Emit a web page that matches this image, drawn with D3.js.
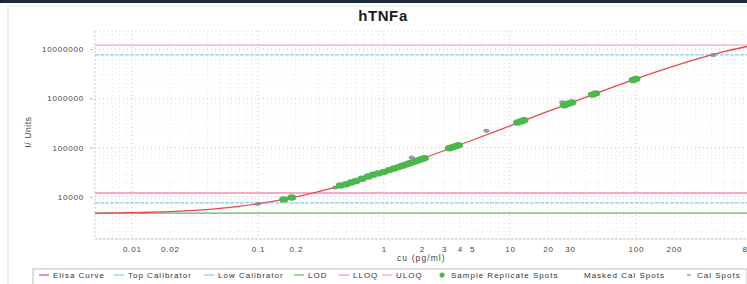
<!DOCTYPE html>
<html>
<head>
<meta charset="utf-8">
<script src="https://cdn.jsdelivr.net/npm/d3@7"></script>
<style>
  body { margin: 0; background: #fff; }
  svg { display: block; font-family: "Liberation Sans", Arial, sans-serif; }
</style>
</head>
<body>
<svg width="747" height="284"></svg>
<script>
// chart values
const xTicks = [0.01, 0.02, 0.1, 0.2, 1, 2, 3, 4, 5, 10, 20, 30, 100, 200, 800];
const yTicks = [10000, 100000, 1000000, 10000000];

// fitted elisa curve
const curveX = [0.005, 0.01, 0.02, 0.05, 0.1, 0.2, 0.5, 1, 2, 5, 10, 20, 50, 100, 200, 500, 1000];
const curveY = [4640, 4780, 5050, 5870, 7250, 10000, 18200, 32000, 59400, 141000, 276000, 542000, 1306000, 2480000, 4500000, 8820000, 12980000];

// sample replicate spots (green)
const sampleX = [0.16, 0.185, 0.45, 0.5, 0.55, 0.6, 0.67, 0.75, 0.82, 0.9, 1.0, 1.1, 1.2, 1.3, 1.4, 1.5, 1.6, 1.7, 1.8, 1.9, 2.0, 2.1,
                 3.3, 3.5, 3.7, 3.9, 11.5, 12.2, 12.9, 27, 29, 31, 45, 48, 95, 100];
const sampleY = [8900, 9700, 17000, 18100, 19600, 21000, 23300, 26000, 28100, 30000, 32200, 35000, 37600, 40200, 43000, 45600, 48200, 50800, 53400, 56000, 58600, 61200,
                 97000, 102000, 107000, 112000, 322000, 340000, 358000, 725000, 775000, 825000, 1190000, 1260000, 2360000, 2480000];

// calibrator spots (grey)
const calX = [0.1, 0.41, 1.66, 6.5, 26, 410];
const calY = [7300, 15500, 63000, 220000, 830000, 7600000];

// reference levels
const levels = [
  { name: "ULOQ", value: 12000000, color: "#f4a6c4" },
  { name: "Top Calibrator", value: 7600000, color: "#8fcbea" },
  { name: "LLOQ", value: 12000, color: "#ee8fb0" },
  { name: "Low Calibrator", value: 7600, color: "#8fcbea" },
  { name: "LOD", value: 4700, color: "#5cb85c" }
];

const legendLabels = ["Elisa Curve", "Top Calibrator", "Low Calibrator", "LOD", "LLOQ", "ULOQ",
                      "Sample Replicate Spots", "Masked Cal Spots", "Cal Spots"];
const legendColors = ["#e8474f", "#8fcbea", "#8fcbea", "#5cb85c", "#ee8fb0", "#f4a6c4", "#4cb84c", null, "#888"];
// where each legend text starts
const legendPos = [53, 128, 218, 308, 353, 396, 451, 584, 697];

const svg = d3.select("svg");
const W = 747, H = 284;

// frame bits of the screenshot
svg.append("rect").attr("x", 0).attr("y", 0).attr("width", W).attr("height", 3).attr("fill", "#1d2838");
svg.append("rect").attr("x", 8).attr("y", 6).attr("width", 760).attr("height", 300)
  .attr("fill", "none").attr("stroke", "#e2e2e2");

const x = d3.scaleLog().domain([0.005, 1000]).range([94, 762]);
const y = d3.scaleLog().domain([1400, 23200000]).range([239, 31]);
const pL = 95, pT = 31, pB = 239, pR = 770;

svg.append("text").attr("x", 383).attr("y", 21).attr("text-anchor", "middle")
  .attr("font-size", 15).attr("font-weight", "bold").attr("letter-spacing", 0.6)
  .attr("fill", "#1a1a1a").text("hTNFa");

const plot = svg.append("g");
plot.append("clipPath").attr("id", "clip").append("rect")
  .attr("x", pL).attr("y", pT).attr("width", pR - pL).attr("height", pB - pT);

// grid: minor then major
const xMinor = [], yMinor = [];
for (let e = -3; e <= 3; e++) for (let m = 1; m <= 9; m++) {
  const v = m * Math.pow(10, e);
  if (v >= 0.005 && v <= 1000) xMinor.push(v);
}
for (let e = 3; e <= 7; e++) for (let m = 1; m <= 9; m++) {
  const v = m * Math.pow(10, e);
  if (v >= 1400 && v <= 23200000) yMinor.push(v);
}
const isDecade = d => Math.abs(Math.log10(d) - Math.round(Math.log10(d))) < 1e-9;
plot.selectAll(".gx").data(xMinor).enter().append("line")
  .attr("x1", d => x(d)).attr("x2", d => x(d)).attr("y1", pT).attr("y2", pB)
  .attr("stroke", d => isDecade(d) ? "#c8c8c8" : "#e4e4e4")
  .attr("stroke-dasharray", "1,3").attr("stroke-width", 1);
plot.selectAll(".gy").data(yMinor).enter().append("line")
  .attr("x1", pL).attr("x2", pR).attr("y1", d => y(d)).attr("y2", d => y(d))
  .attr("stroke", d => isDecade(d) ? "#c8c8c8" : "#ececec")
  .attr("stroke-dasharray", "1,3").attr("stroke-width", 1);

// axis lines
plot.append("line").attr("x1", pL).attr("x2", pL).attr("y1", pT).attr("y2", pB)
  .attr("stroke", "#cfcfcf").attr("stroke-dasharray", "2,2");
plot.append("line").attr("x1", pL).attr("x2", pR).attr("y1", pB).attr("y2", pB)
  .attr("stroke", "#bdbdbd").attr("stroke-dasharray", "3,1");
plot.append("line").attr("x1", pL).attr("x2", pR).attr("y1", pT).attr("y2", pT)
  .attr("stroke", "#e6e6e6").attr("stroke-dasharray", "2,2");

// axes
const yAxis = svg.append("g").attr("transform", `translate(${pL - 2},0)`)
  .call(d3.axisLeft(y).tickValues(yTicks).tickFormat(d3.format("d")).tickSize(3));
const xAxis = svg.append("g").attr("transform", `translate(0,${pB})`)
  .call(d3.axisBottom(x).tickValues(xTicks).tickFormat(d => String(d)).tickSize(0).tickPadding(7));
[yAxis, xAxis].forEach(a => {
  a.select(".domain").remove();
  a.selectAll("line").attr("stroke", "#bbb");
  a.selectAll("text").attr("font-size", 8).attr("fill", "#444")
    .attr("letter-spacing", 0.8).attr("font-family", "Liberation Sans, Arial, sans-serif");
});
yAxis.selectAll("text").attr("dx", -3);

svg.append("text").attr("transform", "translate(31,132) rotate(-90)").attr("text-anchor", "middle")
  .attr("font-size", 8.5).attr("fill", "#444").attr("letter-spacing", 0.6).text("I/ Units");
svg.append("text").attr("x", 397).attr("y", 261)
  .attr("font-size", 8.5).attr("fill", "#444").attr("letter-spacing", 1.1).text("cu (pg/ml)");

const inner = plot.append("g").attr("clip-path", "url(#clip)");

// reference lines
inner.selectAll(".lvl").data(levels).enter().append("line")
  .attr("x1", pL).attr("x2", pR).attr("y1", d => y(d.value)).attr("y2", d => y(d.value))
  .attr("stroke", d => d.color).attr("stroke-width", 1.3)
  .attr("stroke-dasharray", d => d.name.includes("Calibrator") ? "4,1" : null);

// elisa curve
const curvePts = curveX.map((v, i) => [v, curveY[i]]);
inner.append("path").datum(curvePts)
  .attr("d", d3.line().x(d => x(d[0])).y(d => y(d[1])).curve(d3.curveMonotoneX))
  .attr("fill", "none").attr("stroke", "#e8474f").attr("stroke-width", 1.3);

// spots
inner.selectAll(".cal").data(calX.map((v, i) => [v, calY[i]])).enter().append("ellipse")
  .attr("cx", d => x(d[0])).attr("cy", d => y(d[1])).attr("rx", 3).attr("ry", 2)
  .attr("fill", "#8a8a8a").attr("opacity", 0.85);
inner.selectAll(".smp").data(sampleX.map((v, i) => [v, sampleY[i]])).enter().append("ellipse")
  .attr("cx", d => x(d[0])).attr("cy", d => y(d[1])).attr("rx", 4.5).attr("ry", 3.2)
  .attr("fill", "#4cb84c");

// legend
const lg = svg.append("g");
lg.append("rect").attr("x", 33).attr("y", 269).attr("width", 714).attr("height", 30)
  .attr("fill", "#fff").attr("stroke", "#bbb").attr("stroke-width", 1);
legendLabels.forEach((lab, i) => {
  const g = lg.append("g").attr("transform", `translate(${legendPos[i]},278)`);
  const c = legendColors[i];
  if (lab === "Sample Replicate Spots") {
    g.append("circle").attr("cx", -9).attr("cy", -3).attr("r", 2.5).attr("fill", c);
  } else if (lab === "Cal Spots") {
    g.append("line").attr("x1", -10).attr("x2", -6).attr("y1", -3).attr("y2", -3).attr("stroke", c).attr("stroke-width", 1.2);
  } else if (c) {
    g.append("line").attr("x1", -14).attr("x2", -4).attr("y1", -3).attr("y2", -3).attr("stroke", c).attr("stroke-width", 1.2);
  }
  g.append("text").attr("x", 0).attr("y", 0).attr("font-size", 8).attr("fill", "#333")
    .attr("letter-spacing", 1.0).text(lab);
});
</script>
</body>
</html>
